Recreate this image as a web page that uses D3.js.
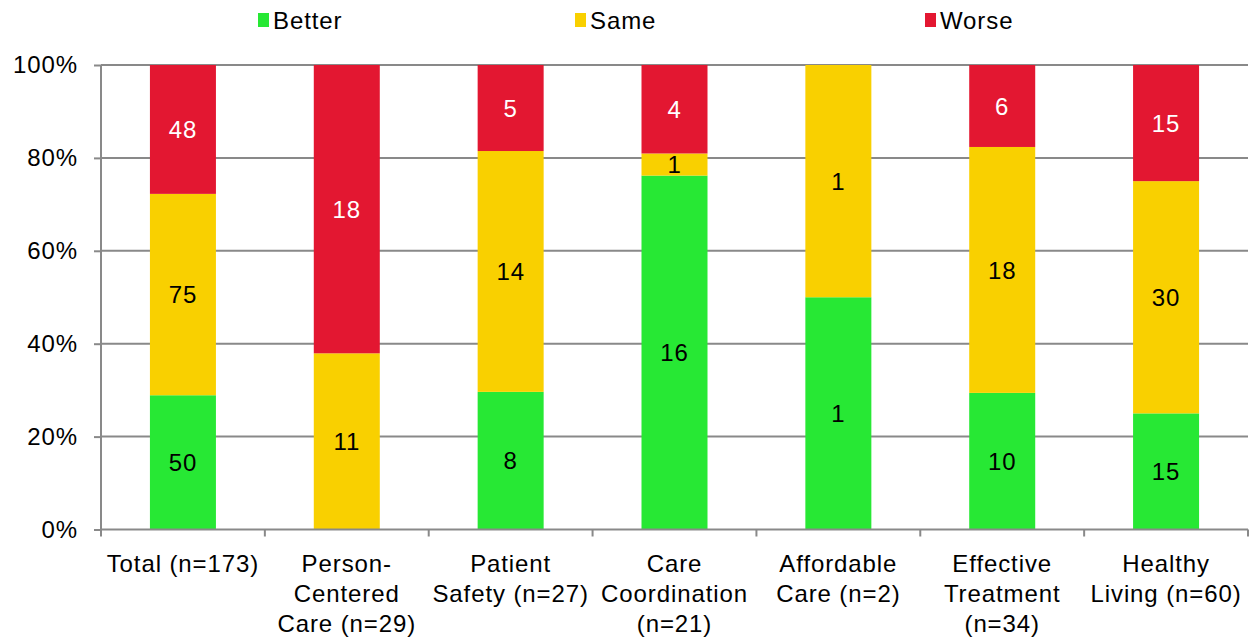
<!DOCTYPE html>
<html><head><meta charset="utf-8">
<script src="https://cdn.jsdelivr.net/npm/d3@7"></script>
<style>body{margin:0;background:#fff}svg{display:block}text{font-family:"Liberation Sans",Arial,sans-serif;letter-spacing:0.9px}</style>
</head><body><svg id="c" width="1249" height="637"></svg>
<script>
const categories = ["Total (n=173)","Person-Centered Care (n=29)","Patient Safety (n=27)","Care Coordination (n=21)","Affordable Care (n=2)","Effective Treatment (n=34)","Healthy Living (n=60)"];
const categoryLines = [["Total (n=173)"],["Person-","Centered","Care (n=29)"],["Patient","Safety (n=27)"],["Care","Coordination","(n=21)"],["Affordable","Care (n=2)"],["Effective","Treatment","(n=34)"],["Healthy","Living (n=60)"]];
const seriesNames = ["Better","Same","Worse"];
const better = [50,0,8,16,1,10,15];
const same = [75,11,14,1,1,18,30];
const worse = [48,18,5,4,0,6,15];
const yTicks = [0,0.2,0.4,0.6,0.8,1.0];
const colors = ["#27E834","#F9D000","#E31731"];
const textColors = ["#000","#000","#fff"];

const FS = 24;
const svg = d3.select("#c");
const x = d3.scaleBand().domain(categories).range([101,1248]).padding(0);
const y = d3.scaleLinear().domain([0,1]).range([529.5,65]);
const barW = 66;

// gridlines
svg.append("g").selectAll("line").data(yTicks.slice(1)).join("line")
  .attr("x1",101).attr("x2",1248).attr("y1",d=>y(d)).attr("y2",d=>y(d))
  .attr("stroke","#898989").attr("stroke-width",2);

const rows = categories.map((c,i)=>({cat:c,Better:better[i],Same:same[i],Worse:worse[i]}));
const stack = d3.stack().keys(seriesNames).offset(d3.stackOffsetExpand)(rows);

stack.forEach((layer,si)=>{
  const g = svg.append("g");
  g.selectAll("rect").data(layer).join("rect")
    .attr("x",d=>x(d.data.cat)+x.bandwidth()/2-barW/2)
    .attr("width",barW)
    .attr("y",d=>y(d[1]))
    .attr("height",d=>y(d[0])-y(d[1]))
    .attr("fill",colors[si]);
  g.selectAll("text").data(layer.filter(d=>d.data[layer.key]>0)).join("text")
    .attr("x",d=>x(d.data.cat)+x.bandwidth()/2)
    .attr("y",d=>(y(d[0])+y(d[1]))/2)
    .attr("dy","0.36em")
    .attr("text-anchor","middle")
    .attr("font-size",FS)
    .attr("fill",textColors[si])
    .text(d=>d.data[layer.key]);
});

// x axis
const gx = svg.append("g").attr("transform","translate(0,529.5)");
gx.append("line").attr("x1",100).attr("x2",1248).attr("stroke","#898989").attr("stroke-width",2);
const bounds = categories.map(c=>x(c)).concat([x.range()[1]]);
gx.selectAll("line.b").data(bounds).join("line").attr("class","b")
  .attr("x1",d=>d).attr("x2",d=>d).attr("y1",0).attr("y2",7)
  .attr("stroke","#898989").attr("stroke-width",2);
categories.forEach((c,i)=>{
  const t = gx.append("text").attr("text-anchor","middle").attr("font-size",FS).attr("fill","#000");
  categoryLines[i].forEach((ln,j)=>{
    t.append("tspan").attr("x",x(c)+x.bandwidth()/2).attr("y",42+30*j).text(ln);
  });
});

// y axis
const gy = svg.append("g").attr("transform","translate(101,0)")
  .call(d3.axisLeft(y).tickValues(yTicks).tickFormat(d3.format(".0%")).tickSize(7).tickPadding(16));
gy.select(".domain").attr("stroke","#898989").attr("stroke-width",2).attr("d","M0,65V529.5");
gy.selectAll(".tick line").attr("stroke","#898989").attr("stroke-width",2);
gy.selectAll(".tick text").attr("font-size",FS).attr("fill","#000").attr("font-family","Liberation Sans, Arial, sans-serif");

// legend
const legX = [258,575,925];
seriesNames.forEach((s,i)=>{
  svg.append("rect").attr("x",legX[i]).attr("y",13).attr("width",11).attr("height",14).attr("fill",colors[i]);
  svg.append("text").attr("x",legX[i]+15).attr("y",28.5).attr("font-size",FS).attr("fill","#000").text(s);
});
</script></body></html>
